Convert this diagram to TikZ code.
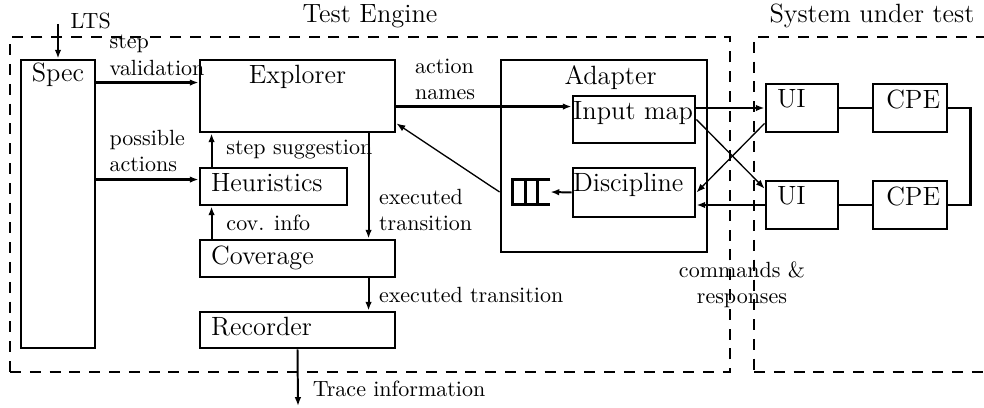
\documentclass[tikz,border=0pt]{standalone}
\usepackage{tikz}
\usetikzlibrary{positioning}
\usetikzlibrary{arrows.meta}
\usetikzlibrary{fit,calc}
\tikzset{block/.style={draw,line width=1.3pt,inner sep=0pt},
  frame/.style={draw,line width=1.3pt,dash pattern=on 5pt off 4pt,inner sep=0pt},
  mid text/.style={anchor=north,font=\large,inner sep=3pt},
  left text/.style={anchor=north west,font=\large,inner xsep=5.5pt,inner ysep=3pt},
  lbl/.style={align=left},
  flow/.style={->,line width=1.3pt},
  link/.style={->,line width=0.9pt},
  hint/.style={->,semithick},}

\begin{document}
\begin{tikzpicture}[x=0.4545pt,y=-0.4545pt,>={Latex[length=4pt,width=3pt]}]
    \useasboundingbox (0,0) rectangle (984,408);
    \clip (0,0) rectangle (984,408);

    % dashed frames
    \node[frame,fit={(10,37) (730,372)},label={[font=\large]north:Test Engine}] (engine) {};
    \node[frame,fit={(754,37) (990,372)},label={[font=\large]north:System under test}] (sut) {};

    % test engine
    \node[block,fit={(21,60) (95,348)},label={[mid text,inner sep=2pt]north:Spec}] (spec) {};
    \node[block,fit={(200,60) (395,132)},label={[mid text]north:Explorer}] (explorer) {};
    \node[block,fit={(200,168) (347,205)},label={[left text]north west:Heuristics}] (heur) {};
    \node[block,fit={(200,240) (395,277)},label={[left text]north west:Coverage}] (cov) {};
    \node[block,fit={(200,312) (395,348)},label={[left text]north west:Recorder}] (rec) {};
    \node[block,fit={(501,60) (707,252)},label={[mid text,xshift=3pt]north:Adapter}] (adapter) {};
    \node[block,fit={(573,96) (695,143)},label={[left text,inner xsep=0.5pt]north west:Input map}] (inmap) {};
    \node[block,fit={(573,168) (695,217)},label={[left text,inner xsep=0.5pt]north west:Discipline}] (disc) {};
    \node[inner sep=0pt,fit={(513,180) (550,204)}] (queue) {};

    % system under test
    \node[block,fit={(766,84) (838,132)},label={[left text]north west:UI}] (ui1) {};
    \node[block,fit={(873,84) (947,132)},label={[left text,inner xsep=6.5pt]north west:CPE}] (cpe1) {};
    \node[block,fit={(766,181) (838,229)},label={[left text]north west:UI}] (ui2) {};
    \node[block,fit={(873,181) (947,229)},label={[left text,inner xsep=6.5pt]north west:CPE}] (cpe2) {};

    \coordinate (lts) at (58,24);
    \coordinate (trace) at (298,406);
    \node[align=center] (cmd) at (742,285) {commands \&\\responses};

    % queue
    \draw[line width=1.3pt] (queue.north east) -- (queue.north west) -- (queue.south west) -- (queue.south east);
    \draw[line width=1.3pt] ($(queue.north west)!1/3!(queue.north east)$) -- ($(queue.south west)!1/3!(queue.south east)$);
    \draw[line width=1.3pt] ($(queue.north west)!2/3!(queue.north east)$) -- ($(queue.south west)!2/3!(queue.south east)$);

    \draw[link] (lts) -- (spec.north) node[pos=0,anchor=base west,xshift=2pt,yshift=-2pt] {LTS};
    \draw[flow] ($(spec.north east)+(0,24)$) -- ($(explorer.north west)+(0,24)$)
        node[pos=0,above right,lbl,xshift=2pt,yshift=-0.7pt] {step\\validation};
    \draw[flow] ($(spec.east |- heur.north)+(0,13)$) -- ($(heur.north west)+(0,13)$)
        node[pos=0,above right,lbl,xshift=2pt,yshift=-0.5pt] {possible\\actions};
    \draw[link] ($(heur.north west)+(13,0)$) -- ($(explorer.south west)+(13,0)$)
        node[midway,right,xshift=3pt] {step suggestion};
    \draw[link] ($(explorer.south west)+(170,0)$) -- ($(cov.north west)+(170,0)$)
        node[pos=0.73,right,lbl,xshift=1pt] {executed\\transition};
    \draw[link] ($(cov.north west)+(13,0)$) -- ($(heur.south west)+(13,0)$)
        node[midway,right,xshift=3pt] {cov. info};
    \draw[link] ($(cov.south west)+(170,0)$) -- ($(rec.north west)+(170,0)$)
        node[midway,right,xshift=1pt] {executed transition};
    \draw[link] (rec.south) -- (trace) node[pos=0.7,right,xshift=3pt] {Trace information};

    \draw[flow] ($(explorer.north east)+(0,48)$) -- ($(inmap.north west)+(0,12)$)
        node[pos=0,above right,lbl,xshift=4.5pt,yshift=-1pt] {action\\names};
    \draw[hint] (adapter.west |- queue.west) -- ($(explorer.south east)+(0,-10)$);
    \draw[link] (disc.west) -- (queue.east);

    \draw[flow] (inmap.east |- ui1.west) -- (ui1.west);
    \draw[flow] (ui2.west) -- (ui2.west -| disc.east);
    \draw[hint] (inmap.east) -- ($(ui2.north west)+(0,9)$);
    \draw[hint] ($(ui1.south west)+(0,-10)$) -- (disc.east);

    \draw[line width=1.3pt] (ui1) -- (cpe1);
    \draw[line width=1.3pt] (ui2) -- (cpe2);
    \draw[line width=1.3pt] (cpe1.east) -- ++(22,0) |- (cpe2.east);
\end{tikzpicture}
\end{document}
